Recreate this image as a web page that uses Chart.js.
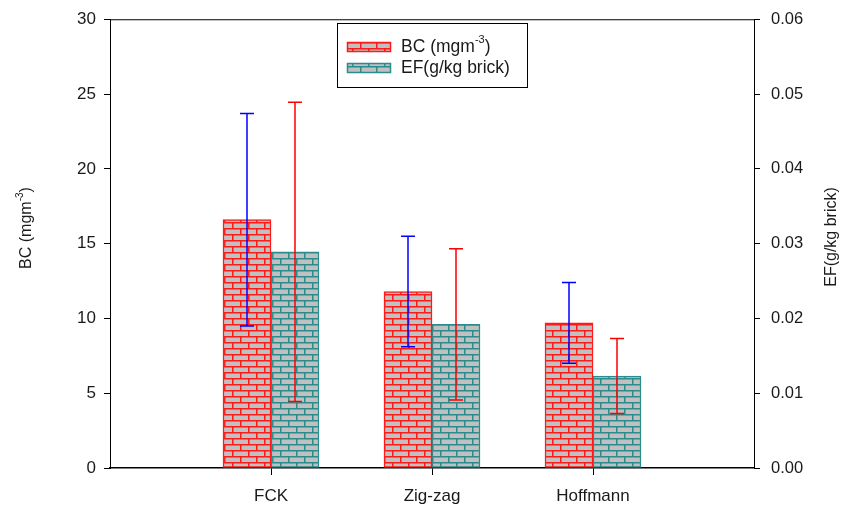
<!DOCTYPE html>
<html>
<head>
<meta charset="utf-8">
<script src="https://cdn.jsdelivr.net/npm/chart.js@4.4.1/dist/chart.umd.min.js"></script>
<style>
  html, body { margin: 0; padding: 0; background: #fff; }
  #wrap { position: relative; width: 851px; height: 505px; }
</style>
</head>
<body>
<div id="wrap"><canvas id="chart"></canvas></div>
<script>
// categories (blank slots at the ends give the same spacing as the original axis)
const kilnTypes = ['', 'FCK', 'Zig-zag', 'Hoffmann', ''];
// BC concentration (mg m-3), left axis
const bcValues = [null, 16.6, 11.8, 9.7, null];
const bcErrors = [null, 7.1, 3.7, 2.7, null];
// emission factor (g/kg brick), right axis
const efValues = [null, 0.0289, 0.0192, 0.0123, null];
const efErrors = [null, 0.0200, 0.0101, 0.0050, null];
// tick ranges
const bcTicks = { min: 0, max: 30, step: 5 };
const efTicks = { min: 0, max: 0.06, step: 0.01 };

const FONT = "'Liberation Sans', Arial, sans-serif";
const TEXT = '#1a1a1a';

// gray bricks with coloured mortar
function brickPattern(color) {
    const c = document.createElement('canvas');
    c.width = 16; c.height = 12;
    const g = c.getContext('2d');
    g.fillStyle = '#c0c0c0';
    g.fillRect(0, 0, 16, 12);
    g.strokeStyle = color;
    g.lineWidth = 1.5;
    g.beginPath();
    g.moveTo(0, 0.75); g.lineTo(16, 0.75);
    g.moveTo(0, 6.75); g.lineTo(16, 6.75);
    g.moveTo(0.75, 0); g.lineTo(0.75, 6);
    g.moveTo(8.75, 6); g.lineTo(8.75, 12);
    g.stroke();
    return g.createPattern(c, 'repeat');
}

const ctx = document.getElementById('chart').getContext('2d');
const redBrick = brickPattern('#ff1a1a');
const tealBrick = brickPattern('#2a8c8c');

function drawSupText(c, base, sup, tail, x, y, size, align) {
    const big = size + 'px ' + FONT;
    const small = Math.round(size * 0.65) + 'px ' + FONT;
    c.font = big;
    const w1 = c.measureText(base).width;
    const w3 = c.measureText(tail).width;
    c.font = small;
    const w2 = sup ? c.measureText(sup).width : 0;
    const total = w1 + w2 + w3;
    let sx = align === 'center' ? x - total / 2 : x;
    c.fillStyle = TEXT;
    c.textBaseline = 'middle';
    c.textAlign = 'left';
    c.font = big;
    c.fillText(base, sx, y);
    if (sup) {
        c.font = small;
        c.fillText(sup, sx + w1, y - size * 0.42);
    }
    c.font = big;
    c.fillText(tail, sx + w1 + w2, y);
}

// error bars, top border, legend box and axis titles
const extras = {
    id: 'extras',
    afterDatasetsDraw(chart) {
        const c = chart.ctx;
        const sets = [
            { meta: chart.getDatasetMeta(0), vals: bcValues, errs: bcErrors, scale: chart.scales.y, color: '#0000ff' },
            { meta: chart.getDatasetMeta(1), vals: efValues, errs: efErrors, scale: chart.scales.y1, color: '#ff0000' }
        ];
        c.save();
        c.lineWidth = 1.5;
        sets.forEach(s => {
            s.meta.data.forEach((bar, i) => {
                if (s.vals[i] == null) return;
                const top = s.scale.getPixelForValue(s.vals[i] + s.errs[i]);
                const bot = s.scale.getPixelForValue(s.vals[i] - s.errs[i]);
                c.strokeStyle = s.color;
                c.beginPath();
                c.moveTo(bar.x, top); c.lineTo(bar.x, bot);
                c.moveTo(bar.x - 7, top); c.lineTo(bar.x + 7, top);
                c.moveTo(bar.x - 7, bot); c.lineTo(bar.x + 7, bot);
                c.stroke();
            });
        });
        c.restore();
    },
    afterDraw(chart) {
        const c = chart.ctx;
        const a = chart.chartArea;
        c.save();
        // top frame line
        c.strokeStyle = '#000';
        c.lineWidth = 1;
        c.beginPath();
        c.moveTo(a.left, a.top + 0.5);
        c.lineTo(a.right, a.top + 0.5);
        c.stroke();

        // legend
        const lx = 337, ly = 23, lw = 190, lh = 64;
        c.fillStyle = '#fff';
        c.fillRect(lx, ly, lw, lh);
        c.strokeRect(lx + 0.5, ly + 0.5, lw, lh);
        const items = [
            { fill: redBrick, border: '#ff1a1a', y: 42, base: 'BC (mgm', sup: '-3', tail: ')' },
            { fill: tealBrick, border: '#2a8c8c', y: 63, base: 'EF(g/kg brick)', sup: '', tail: '' }
        ];
        items.forEach(it => {
            c.fillStyle = it.fill;
            c.fillRect(347, it.y, 44, 10);
            c.strokeStyle = it.border;
            c.lineWidth = 1.5;
            c.strokeRect(347.5, it.y + 0.5, 43, 9);
            drawSupText(c, it.base, it.sup, it.tail, 401, it.y + 5, 17.5, 'left');
        });

        // axis titles
        c.save();
        c.translate(27, 228);
        c.rotate(-Math.PI / 2);
        drawSupText(c, 'BC (mgm', '-3', ')', 0, 0, 16, 'center');
        c.restore();
        c.save();
        c.translate(832, 237);
        c.rotate(-Math.PI / 2);
        drawSupText(c, 'EF(g/kg brick)', '', '', 0, 0, 16, 'center');
        c.restore();
        c.restore();
    }
};

new Chart(ctx, {
    type: 'bar',
    data: {
        labels: kilnTypes,
        datasets: [{
            label: 'BC (mgm-3)',
            data: bcValues,
            backgroundColor: redBrick,
            borderColor: '#ff1a1a',
            borderWidth: 1.5,
            borderSkipped: false,
            barThickness: 48,
            yAxisID: 'y'
        }, {
            label: 'EF(g/kg brick)',
            data: efValues,
            backgroundColor: tealBrick,
            borderColor: '#2a8c8c',
            borderWidth: 1.5,
            borderSkipped: false,
            barThickness: 48,
            yAxisID: 'y1'
        }]
    },
    options: {
        responsive: true,
        maintainAspectRatio: false,
        animation: false,
        layout: { padding: { top: 18, left: 0, right: 0, bottom: 0 } },
        plugins: {
            legend: { display: false },
            tooltip: { enabled: false }
        },
        scales: {
            x: {
                offset: false,
                grid: {
                    offset: false,
                    drawOnChartArea: false,
                    drawTicks: true,
                    tickLength: 7,
                    color: c => (c.index === 0 || c.index === kilnTypes.length - 1) ? 'rgba(0,0,0,0)' : '#000'
                },
                border: { display: true, color: '#000', width: 1.5 },
                ticks: {
                    color: TEXT,
                    font: { family: FONT, size: 17 },
                    padding: 11,
                    maxRotation: 0,
                    autoSkip: false
                },
                afterFit: s => { s.height = 37; }
            },
            y: {
                position: 'left',
                min: bcTicks.min,
                max: bcTicks.max,
                ticks: {
                    stepSize: bcTicks.step,
                    color: TEXT,
                    font: { family: FONT, size: 17, lineHeight: 1 },
                    padding: 8
                },
                grid: { drawOnChartArea: false, drawTicks: true, tickLength: 6, color: '#000' },
                border: { display: true, color: '#000', width: 1 },
                afterFit: s => { s.width = 110; }
            },
            y1: {
                position: 'right',
                min: efTicks.min,
                max: efTicks.max,
                ticks: {
                    stepSize: efTicks.step,
                    color: TEXT,
                    font: { family: FONT, size: 16.5, lineHeight: 1 },
                    padding: 11,
                    callback: v => v.toFixed(2)
                },
                grid: { drawOnChartArea: false, drawTicks: true, tickLength: 6, color: '#000' },
                border: { display: true, color: '#000', width: 1 },
                afterFit: s => { s.width = 97; }
            }
        }
    },
    plugins: [extras]
});
</script>
</body>
</html>
